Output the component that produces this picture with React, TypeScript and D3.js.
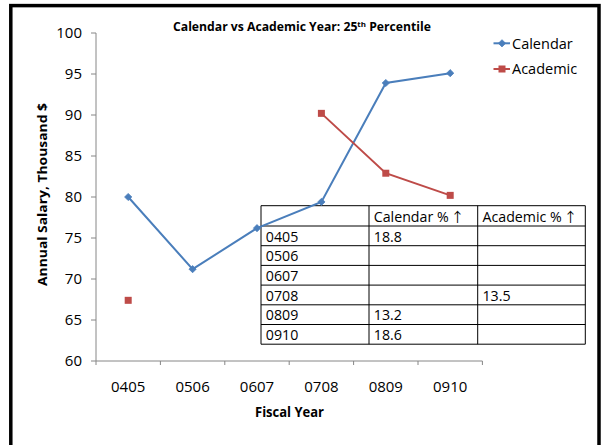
import React from "react";
import * as d3 from "d3";

const categories = ["0405", "0506", "0607", "0708", "0809", "0910"];
const calendarValues: (number | null)[] = [80.0, 71.2, 76.2, 79.4, 93.9, 95.1];
const academicValues: (number | null)[] = [67.4, null, null, 90.2, 82.9, 80.2];
const yTicks = [60, 65, 70, 75, 80, 85, 90, 95, 100];
const tableHeader = ["", "Calendar %", "Academic %"];
const tableCalendar = ["18.8", "", "", "", "13.2", "18.6"];
const tableAcademic = ["", "", "", "13.5", "", ""];

const W = 605;
const H = 445;
const FONT = "'Open Sans', 'DejaVu Sans', sans-serif";
const ARROW_FONT = "'Noto Sans CJK JP', 'DejaVu Sans', sans-serif";
const BLUE = "#4A7EBB";
const RED = "#BE4B48";
const AXIS = "#868686";

export default function App() {
  const x = d3.scaleBand<string>().domain(categories).range([96, 482.4]);
  const y = d3.scaleLinear().domain([60, 100]).range([361, 33]);
  const cx = (c: string) => (x(c) as number) + x.bandwidth() / 2;

  const line = d3
    .line<[string, number | null]>()
    .defined((d) => d[1] !== null)
    .x((d) => cx(d[0]))
    .y((d) => y(d[1] as number));

  const calPairs = categories.map((c, i) => [c, calendarValues[i]] as [string, number | null]);
  const acaPairs = categories.map((c, i) => [c, academicValues[i]] as [string, number | null]);

  const diamond = (px: number, py: number, r = 3.6) =>
    `M${px},${py - r}L${px + r},${py}L${px},${py + r}L${px - r},${py}Z`;

  // table geometry
  const tX = [261, 369, 477.7, 585.3];
  const rowH = [20.3, 19.7, 19.7, 19.7, 19.7, 19.7, 19.7];
  const rowY: number[] = [205.7];
  rowH.forEach((h, i) => rowY.push(rowY[i] + h));
  const tableRows = [tableHeader, ...categories.map((c, i) => [c, tableCalendar[i], tableAcademic[i]])];

  return (
    <svg width={W} height={H} style={{ position: "absolute", left: 0, top: 0, background: "#fff" }}>
      <rect x={0} y={0} width={W} height={H} fill="#fff" />
      {/* outer frame */}
      <rect x={10.8} y={5.6} width={588.2} height={470} fill="none" stroke="#000" strokeWidth={3.5} />

      {/* title */}
      <text x={173} y={30.5} fontFamily={FONT} fontWeight="bold" fontSize={11.5} textLength={258} lengthAdjust="spacingAndGlyphs">
        Calendar vs Academic Year: 25
        <tspan fontSize={7.5} dy={-4}>th</tspan>
        <tspan dy={4}> Percentile</tspan>
      </text>

      {/* table (under lines) */}
      <g>
        {rowY.map((ry, i) => (
          <line key={"h" + i} x1={tX[0]} x2={tX[3]} y1={ry} y2={ry} stroke="#000" strokeWidth={1} />
        ))}
        {tX.map((tx, i) => (
          <line key={"v" + i} x1={tx} x2={tx} y1={rowY[0]} y2={rowY[rowY.length - 1]} stroke="#000" strokeWidth={1} />
        ))}
        {tableRows.map((row, ri) =>
          row.map((cell, ci) =>
            cell ? (
              <text key={ri + "-" + ci} x={tX[ci] + 4.8} y={rowY[ri + 1] - 4.2} fontFamily={FONT} fontSize={14.2} fill="#000">
                {cell}
                {ri === 0 ? (
                  <tspan fontFamily={ARROW_FONT} fontSize={13.5} dx={2}>
                    {"\u2191"}
                  </tspan>
                ) : null}
              </text>
            ) : null
          )
        )}
      </g>

      {/* y axis */}
      <line x1={96} x2={96} y1={33} y2={361} stroke={AXIS} strokeWidth={1} />
      {yTicks.map((t) => (
        <g key={t}>
          <line x1={91} x2={96} y1={y(t)} y2={y(t)} stroke={AXIS} strokeWidth={1} />
          <text x={82} y={y(t) + 5.3} textAnchor="end" fontFamily={FONT} fontSize={15} fill="#000">
            {t}
          </text>
        </g>
      ))}

      {/* x axis */}
      <line x1={96} x2={482.4} y1={361} y2={361} stroke={AXIS} strokeWidth={1} />
      {[...categories.map((c) => x(c) as number), 482.4].map((v, i) => (
        <line key={i} x1={v} x2={v} y1={361} y2={365} stroke={AXIS} strokeWidth={1} />
      ))}
      {categories.map((c) => (
        <text key={c} x={cx(c)} y={392.3} textAnchor="middle" fontFamily={FONT} fontSize={15} fill="#000">
          {c}
        </text>
      ))}

      {/* axis titles */}
      <text x={289.5} y={417.3} textAnchor="middle" fontFamily={FONT} fontWeight="bold" fontSize={13.5} textLength={69} lengthAdjust="spacingAndGlyphs">
        Fiscal Year
      </text>
      <text
        transform="translate(46.5,194.5) rotate(-90)"
        textAnchor="middle"
        fontFamily={FONT}
        fontWeight="bold"
        fontSize={13}
        textLength={183}
        lengthAdjust="spacingAndGlyphs"
      >
        Annual Salary,  Thousand $
      </text>

      {/* series */}
      <path d={line(calPairs) || ""} fill="none" stroke={BLUE} strokeWidth={2} />
      <path d={line(acaPairs) || ""} fill="none" stroke={RED} strokeWidth={2} />
      {calPairs.map(([c, v]) =>
        v === null ? null : <path key={"c" + c} d={diamond(cx(c), y(v))} fill={BLUE} stroke={BLUE} strokeWidth={0.8} />
      )}
      {acaPairs.map(([c, v]) =>
        v === null ? null : (
          <rect key={"a" + c} x={cx(c) - 3.5} y={y(v) - 3.5} width={7} height={7} fill={RED} />
        )
      )}

      {/* legend */}
      <line x1={493.5} x2={510} y1={43.3} y2={43.3} stroke={BLUE} strokeWidth={2} />
      <path d={diamond(502, 43.3)} fill={BLUE} stroke={BLUE} strokeWidth={0.8} />
      <text x={512} y={48.5} fontFamily={FONT} fontSize={14.5} fill="#000">
        Calendar
      </text>
      <line x1={493.5} x2={510} y1={69} y2={69} stroke={RED} strokeWidth={2} />
      <rect x={498.5} y={65.5} width={7} height={7} fill={RED} />
      <text x={512} y={74.2} fontFamily={FONT} fontSize={14.5} fill="#000">
        Academic
      </text>
    </svg>
  );
}
